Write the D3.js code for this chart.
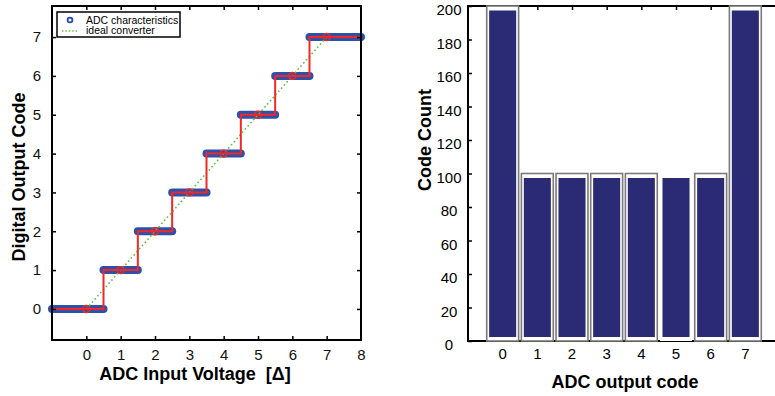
<!DOCTYPE html>
<html>
<head>
<meta charset="utf-8">
<script src="https://cdn.jsdelivr.net/npm/d3@7"></script>
<style>
  body { margin: 0; background: #fff; }
  svg { display: block; font-family: "Liberation Sans", Arial, sans-serif; }
  .lbl { white-space: pre; }
</style>
</head>
<body>
<div id="chart"></div>
<script>
// ADC transfer characteristic
var codes = [0, 1, 2, 3, 4, 5, 6, 7]
var transitions = [0.5, 1.5, 2.5, 3.5, 4.5, 5.5, 6.5]
var idealX = [0, 7]
var idealY = [0, 7]
var xTicksLeft = [0, 1, 2, 3, 4, 5, 6, 7, 8]
var yTicksLeft = [0, 1, 2, 3, 4, 5, 6, 7]

// histogram of output codes
var codeCounts = [200, 100, 100, 100, 100, 100, 100, 200]
var edged = [true, true, true, true, true, false, true, true]
var yTicksRight = [0, 20, 40, 60, 80, 100, 120, 140, 160, 180, 200]

var svg = d3.select('#chart').append('svg')
  .attr('width', 775)
  .attr('height', 396)

var fontFam = '"Liberation Sans", Arial, sans-serif'

// ---------- left panel ----------
var x1 = d3.scaleLinear().domain([-1, 8]).range([52, 361])
var y1 = d3.scaleLinear().domain([-0.8, 7.8]).range([340, 6])

var left = svg.append('g')

// blue "ADC characteristics" plateaus
var segs = codes.map(function(c, i) {
  return {
    code: c,
    x0: i === 0 ? x1.domain()[0] : transitions[i - 1],
    x1: i === codes.length - 1 ? x1.domain()[1] : transitions[i]
  }
})
left.selectAll('.plateau')
  .data(segs)
  .enter()
  .append('line')
  .attr('x1', d => x1(d.x0))
  .attr('x2', d => x1(d.x1))
  .attr('y1', d => y1(d.code))
  .attr('y2', d => y1(d.code))
  .attr('stroke', '#3050a8')
  .attr('stroke-width', 8)
  .attr('stroke-linecap', 'round')

// ideal converter (dotted green)
var idealPts = idealX.map((v, i) => [v, idealY[i]])
left.append('path')
  .attr('d', d3.line().x(d => x1(d[0])).y(d => y1(d[1]))(idealPts))
  .attr('fill', 'none')
  .attr('stroke', '#5cc43a')
  .attr('stroke-width', 1.6)
  .attr('stroke-dasharray', '1.6,2.6')

// red staircase
var stepPts = [[x1.domain()[0], codes[0]]]
transitions.forEach(function(t, i) { stepPts.push([t, codes[i + 1]]) })
stepPts.push([x1.domain()[1], codes[codes.length - 1]])
left.append('path')
  .attr('d', d3.line().x(d => x1(d[0])).y(d => y1(d[1])).curve(d3.curveStepAfter)(stepPts))
  .attr('fill', 'none')
  .attr('stroke', '#f02828')
  .attr('stroke-width', 2)

left.selectAll('.mid')
  .data(codes)
  .enter()
  .append('circle')
  .attr('cx', d => x1(d))
  .attr('cy', d => y1(d))
  .attr('r', 3.5)
  .attr('fill', 'none')
  .attr('stroke', '#f02828')
  .attr('stroke-width', 1.4)

// axes box with inside ticks
function styleAxis(g) {
  g.select('.domain').remove()
  g.selectAll('.tick line').attr('stroke', '#000').attr('stroke-width', 1.5)
  g.selectAll('text').attr('font-size', 15).attr('fill', '#111').attr('font-family', fontFam)
}
left.append('g')
  .attr('transform', 'translate(0,340)')
  .call(d3.axisBottom(x1).tickValues(xTicksLeft).tickSizeInner(-4).tickPadding(9))
  .call(styleAxis)
  .call(g => g.selectAll('.tick').filter(d => d === 8).select('line').remove())
left.append('g')
  .attr('transform', 'translate(0,6)')
  .call(d3.axisTop(x1).tickValues(xTicksLeft.slice(0, -1)).tickSizeInner(-4).tickFormat(''))
  .call(styleAxis)
left.append('g')
  .attr('transform', 'translate(52,0)')
  .call(d3.axisLeft(y1).tickValues(yTicksLeft).tickSizeInner(-4).tickPadding(11))
  .call(styleAxis)
left.append('g')
  .attr('transform', 'translate(361,0)')
  .call(d3.axisRight(y1).tickValues(yTicksLeft).tickSizeInner(-4).tickFormat(''))
  .call(styleAxis)

left.append('rect')
  .attr('x', 52).attr('y', 6)
  .attr('width', 309).attr('height', 334)
  .attr('fill', 'none')
  .attr('stroke', '#000')
  .attr('stroke-width', 2)

// legend
var leg = left.append('g')
leg.append('rect')
  .attr('x', 57).attr('y', 12).attr('width', 123).attr('height', 25)
  .attr('fill', '#fff').attr('stroke', '#000').attr('stroke-width', 1.5)
leg.append('circle')
  .attr('cx', 70).attr('cy', 20).attr('r', 2.4)
  .attr('fill', 'none').attr('stroke', '#2747a8').attr('stroke-width', 1.8)
leg.append('line')
  .attr('x1', 62).attr('x2', 78).attr('y1', 31).attr('y2', 31)
  .attr('stroke', '#5cc43a').attr('stroke-width', 1.5).attr('stroke-dasharray', '1.4,2')
leg.append('text').attr('x', 86).attr('y', 23.5)
  .attr('font-size', 10.5).text('ADC characteristics')
leg.append('text').attr('x', 86).attr('y', 34)
  .attr('font-size', 10.5).text('ideal converter')

svg.append('text')
  .attr('class', 'lbl')
  .attr('x', 195).attr('y', 380)
  .attr('text-anchor', 'middle')
  .attr('font-size', 18).attr('font-weight', 'bold')
  .text('ADC Input Voltage  [\u0394]')
svg.append('text')
  .attr('transform', 'translate(25,177) rotate(-90)')
  .attr('text-anchor', 'middle')
  .attr('font-size', 18).attr('font-weight', 'bold')
  .text('Digital Output Code')

// ---------- right panel ----------
var x2 = d3.scaleLinear().domain([-1, 8]).range([468, 780])
var y2 = d3.scaleLinear().domain([0, 200]).range([341, 6])
var right = svg.append('g')

// axis lines first, bars paint over them
right.append('line').attr('x1', 468).attr('x2', 780).attr('y1', 341).attr('y2', 341)
  .attr('stroke', '#000').attr('stroke-width', 2)
right.append('line').attr('x1', 468).attr('x2', 780).attr('y1', 6).attr('y2', 6)
  .attr('stroke', '#000').attr('stroke-width', 2)
right.append('line').attr('x1', 468).attr('x2', 468).attr('y1', 5).attr('y2', 342)
  .attr('stroke', '#000').attr('stroke-width', 2)

right.append('g')
  .attr('transform', 'translate(0,6)')
  .call(d3.axisTop(x2).tickValues(codes).tickSizeInner(-4).tickFormat(''))
  .call(styleAxis)
right.append('g')
  .attr('transform', 'translate(468,0)')
  .call(d3.axisLeft(y2).tickValues(yTicksRight).tickSizeInner(-4).tickSizeOuter(0).tickFormat(''))
  .call(styleAxis)

var unit = x2(1) - x2(0)
var bars = right.selectAll('.bar')
  .data(codeCounts.map((v, i) => ({ code: codes[i], count: v, edge: edged[i] })))
  .enter()
  .append('g')

bars.append('rect')
  .attr('x', d => x2(d.code) - unit * 0.46)
  .attr('width', unit * 0.92)
  .attr('y', d => y2(d.count))
  .attr('height', d => y2(0) - y2(d.count))
  .attr('fill', '#fff')
  .attr('stroke', d => d.edge ? '#7a7a7a' : 'none')
  .attr('stroke-width', 1.6)

bars.append('rect')
  .attr('x', d => x2(d.code) - unit * 0.39)
  .attr('width', unit * 0.78)
  .attr('y', d => y2(d.count) + 4.5)
  .attr('height', d => y2(0) - y2(d.count) - 8.5)
  .attr('fill', '#2b2a74')

// tick labels
right.selectAll('.xl')
  .data(codes)
  .enter()
  .append('text')
  .attr('x', d => x2(d))
  .attr('y', 359)
  .attr('text-anchor', 'middle')
  .attr('font-size', 15)
  .text(d => d)
right.selectAll('.yl')
  .data(yTicksRight)
  .enter()
  .append('text')
  .attr('x', 449)
  .attr('y', d => y2(d) + 9)
  .attr('text-anchor', 'middle')
  .attr('font-size', 15)
  .text(d => d)

svg.append('text')
  .attr('x', 625).attr('y', 388)
  .attr('text-anchor', 'middle')
  .attr('font-size', 18).attr('font-weight', 'bold')
  .text('ADC output code')
svg.append('text')
  .attr('transform', 'translate(431,140) rotate(-90)')
  .attr('text-anchor', 'middle')
  .attr('font-size', 18).attr('font-weight', 'bold')
  .text('Code Count')
</script>
</body>
</html>
